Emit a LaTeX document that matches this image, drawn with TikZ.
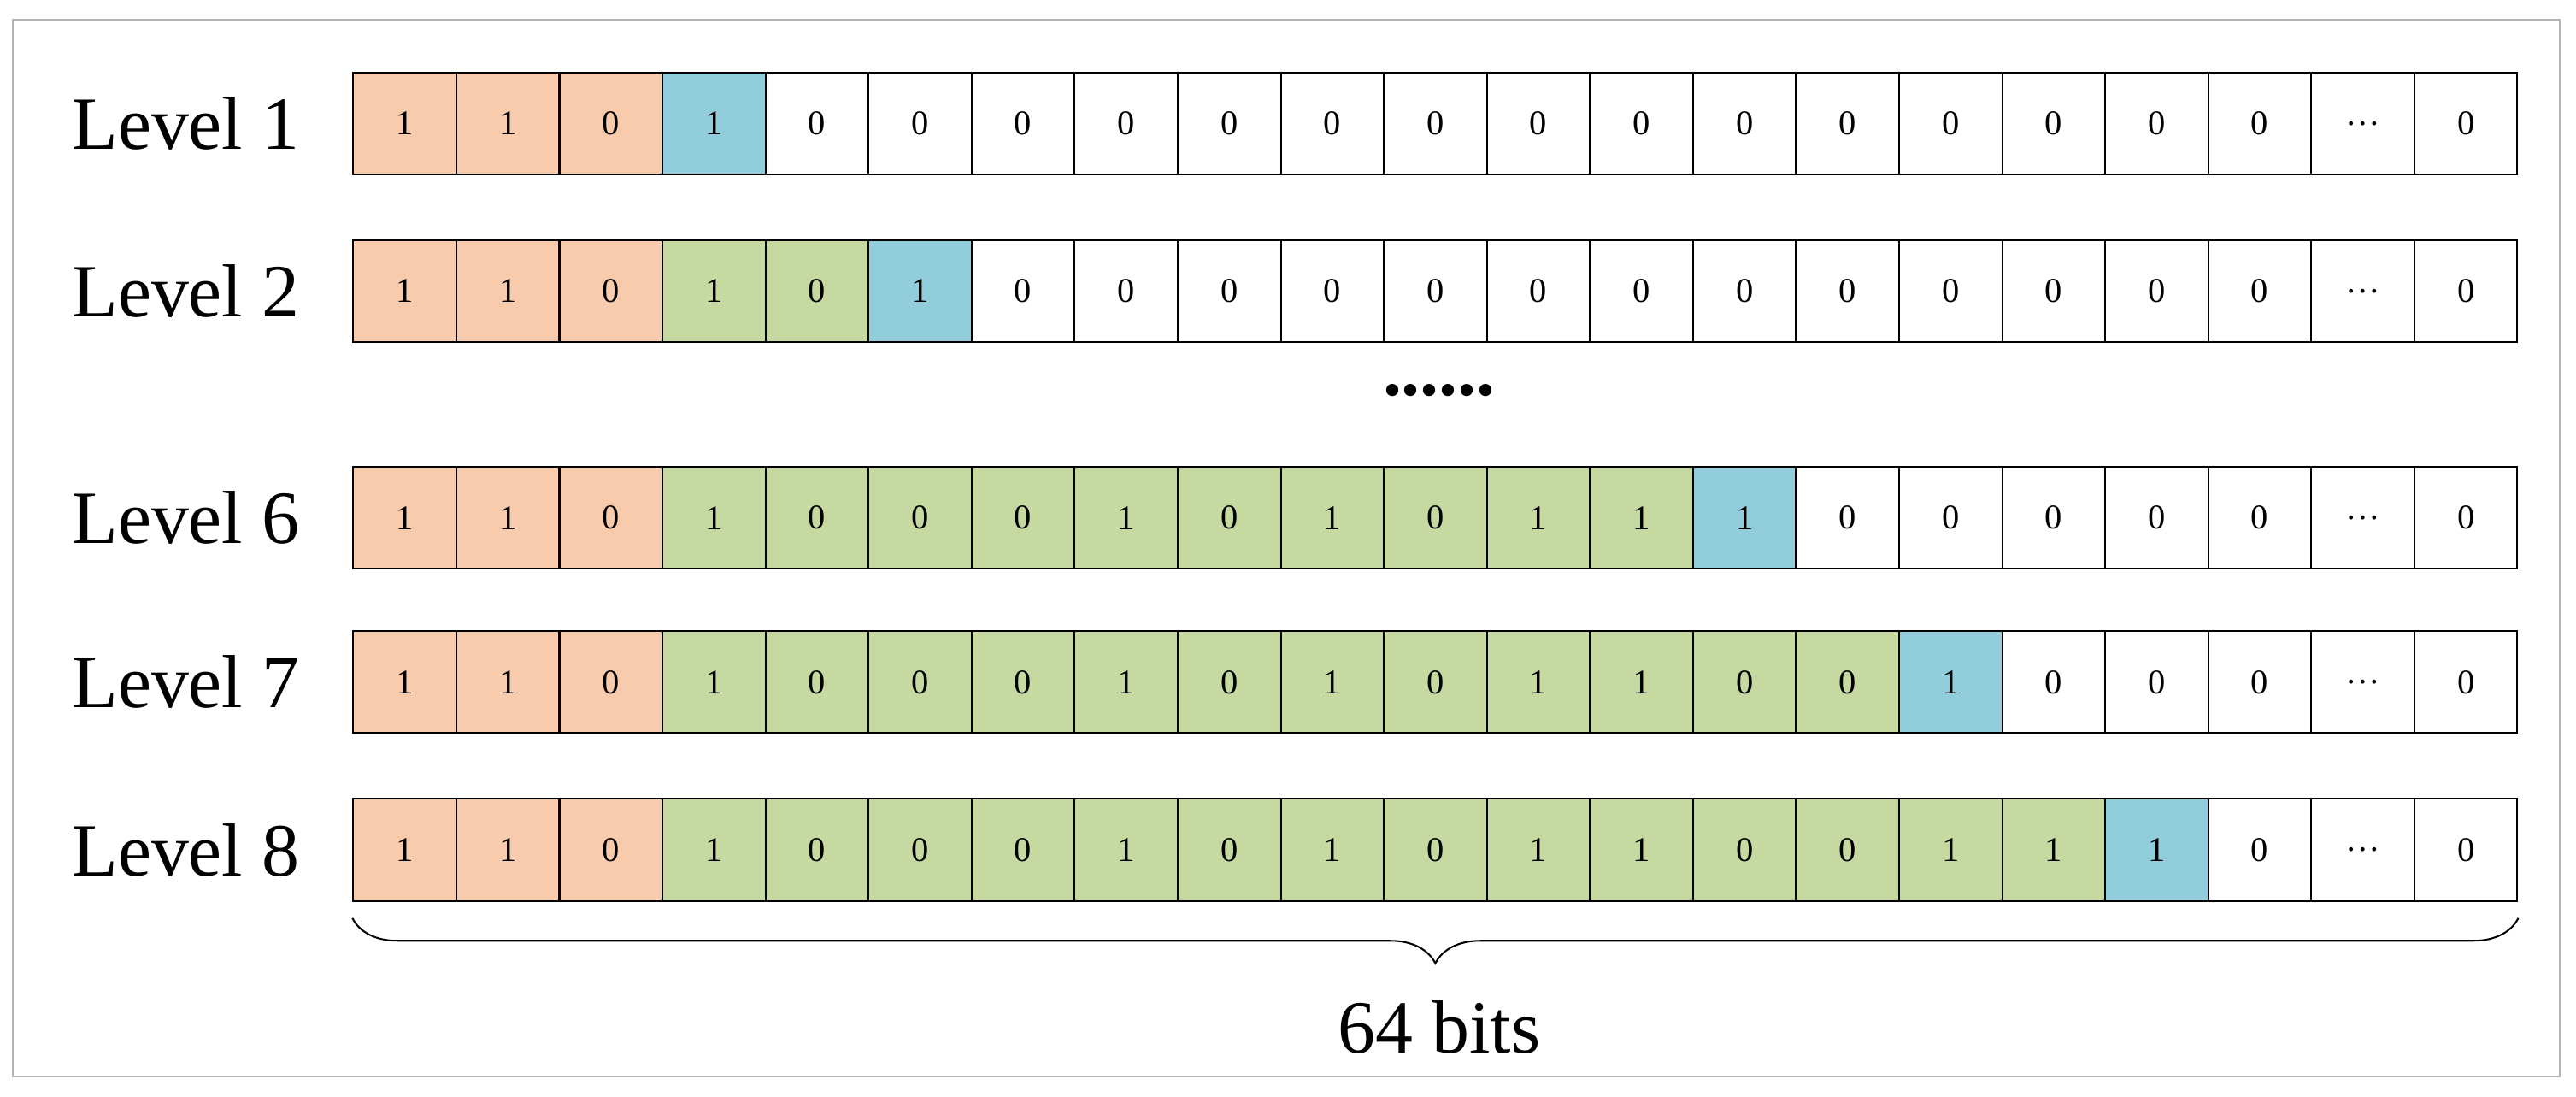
\documentclass[tikz,border=0pt]{standalone}
\usepackage{fontspec}
\setmainfont{Liberation Serif}
\usetikzlibrary{decorations.pathreplacing}
\definecolor{org}{HTML}{F8CBAD}
\definecolor{grn}{HTML}{C5D9A1}
\definecolor{blu}{HTML}{92CDDC}
\tikzset{cell/.style={draw=black,line width=0.6pt,minimum width=1.2543cm,minimum height=1.24cm,inner sep=0pt,font=\fontsize{12}{14}\selectfont},
lvl/.style={anchor=east,font=\fontsize{26}{30}\selectfont,inner sep=0pt}}
\newcommand\bitrow[5]{%
 \foreach \v [count=\i] in {#4} {
  \ifnum\i<4 \gdef\fc{org}\else\ifnum\i<#3 \gdef\fc{grn}\else\ifnum\i=#3 \gdef\fc{blu}\else\gdef\fc{white}\fi\fi\fi
  \node[cell,fill=\fc] (#1-\i) at ({(215+(\i-0.5)*62.714)*0.02},{-#2*0.02}) {\v};
 }
 \node[lvl] (#1-lab) at ([xshift=-0.64cm]#1-1.west) {#5};
}
\begin{document}
\begin{tikzpicture}
\useasboundingbox (0,0) rectangle (31.36,-13.34);
\draw[gray!60,line width=0.6pt] (0.16,-0.24) rectangle (31.16,-13.1);
\bitrow{a}{75}{4}{1,1,0,1,0,0,0,0,0,0,0,0,0,0,0,0,0,0,0,\ldots,0}{Level 1}
\bitrow{b}{177}{6}{1,1,0,1,0,1,0,0,0,0,0,0,0,0,0,0,0,0,0,\ldots,0}{Level 2}
\bitrow{c}{315}{14}{1,1,0,1,0,0,0,1,0,1,0,1,1,1,0,0,0,0,0,\ldots,0}{Level 6}
\bitrow{d}{415}{16}{1,1,0,1,0,0,0,1,0,1,0,1,1,0,0,1,0,0,0,\ldots,0}{Level 7}
\bitrow{e}{517}{18}{1,1,0,1,0,0,0,1,0,1,0,1,1,0,0,1,1,1,0,\ldots,0}{Level 8}
\node[font=\fontsize{26}{30}\selectfont\bfseries] (dots) at (17.52,-4.75) {......};
\draw[decorate,decoration={brace,mirror,amplitude=0.55cm},line width=0.6pt]
 ([yshift=-0.2cm]e-1.south west) -- ([yshift=-0.2cm]e-21.south east) coordinate[midway] (bm);
\node[font=\fontsize{26}{30}\selectfont] (bits) at (17.52,-12.5) {64 bits};
\end{tikzpicture}
\end{document}
